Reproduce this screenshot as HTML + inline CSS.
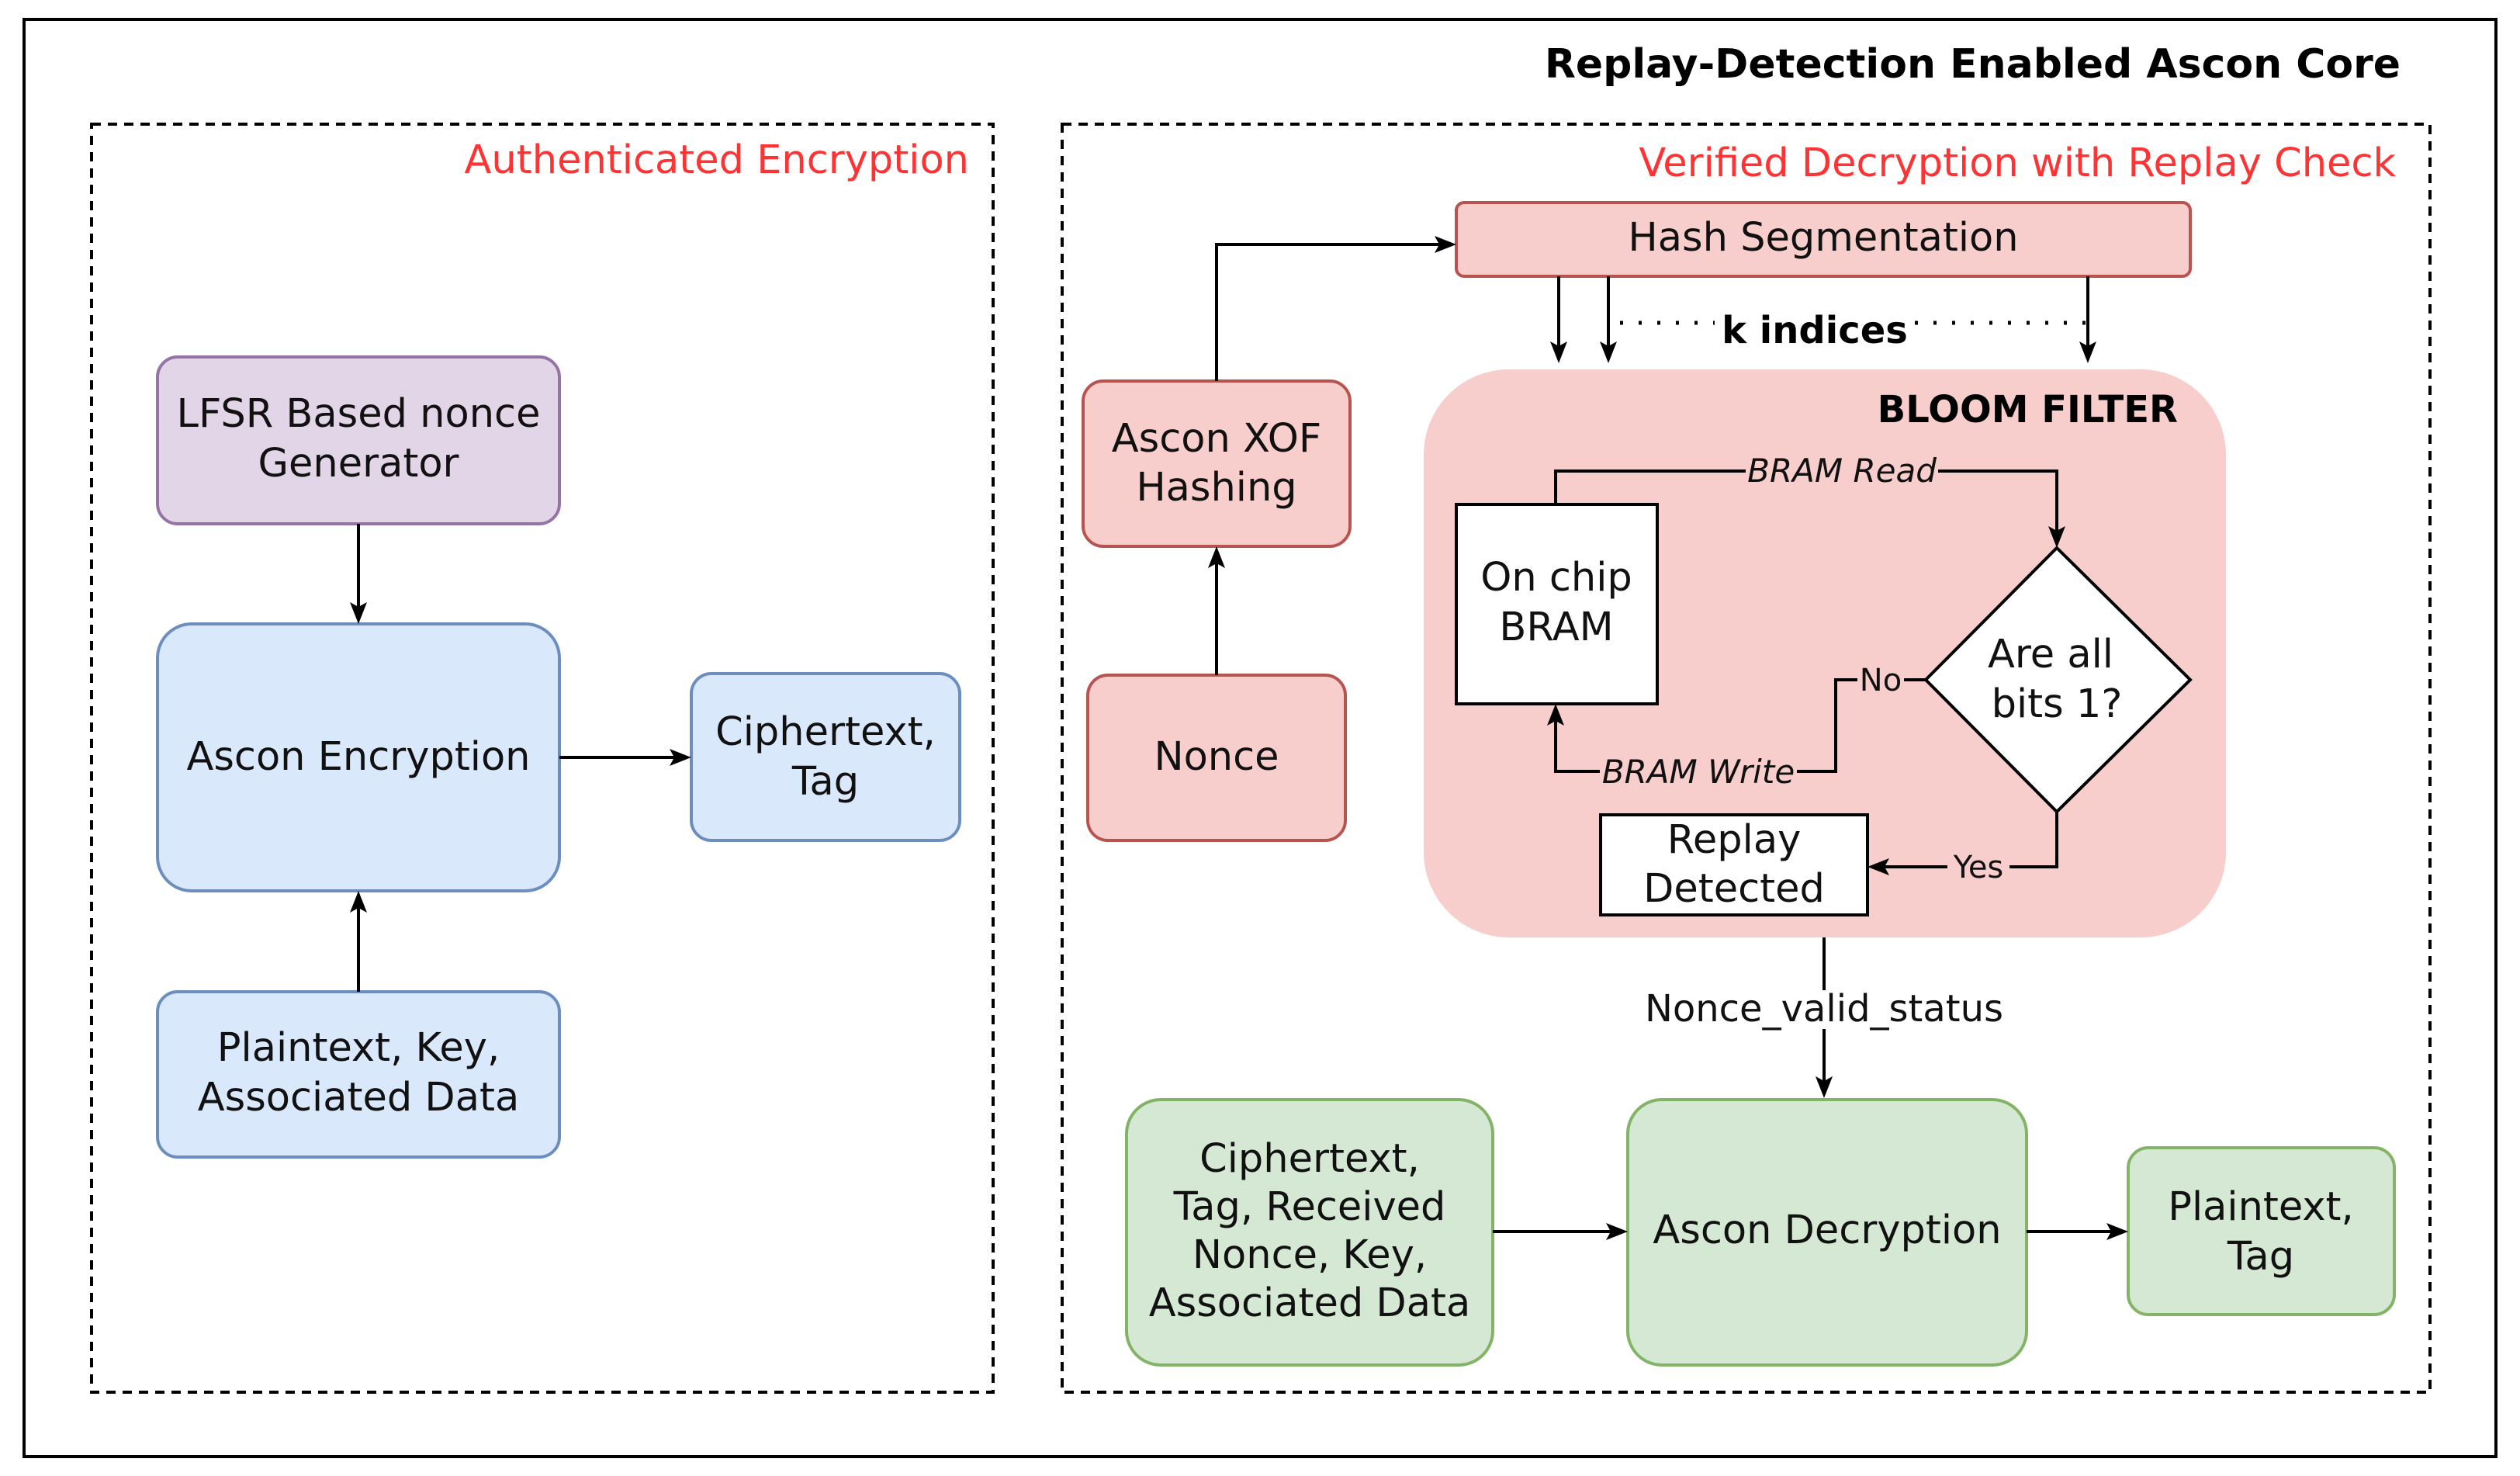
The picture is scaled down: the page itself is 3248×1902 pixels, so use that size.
<!DOCTYPE html>
<html><head><meta charset="utf-8"><style>
html,body{margin:0;padding:0;background:#fff;}
svg{display:block;}
text{font-family:"DejaVu Sans","Liberation Sans",sans-serif;}
</style></head><body>
<svg width="3248" height="1902" viewBox="0 0 3248 1902" xmlns="http://www.w3.org/2000/svg">
<rect x="31" y="25" width="3186" height="1852" fill="#fff" stroke="#000" stroke-width="4"/>
<text x="3094" y="100" text-anchor="end" font-size="52" font-weight="bold">Replay-Detection Enabled Ascon Core</text>

<rect x="118" y="160" width="1162" height="1634" fill="none" stroke="#000" stroke-width="4" stroke-dasharray="12,9"/>
<rect x="1369" y="160" width="1763" height="1634" fill="none" stroke="#000" stroke-width="4" stroke-dasharray="12,9"/>
<text x="1249" y="223" text-anchor="end" font-size="51" fill="#ff3333">Authenticated Encryption</text>
<text x="3088" y="227" text-anchor="end" font-size="51" fill="#ff3333">Verified Decryption with Replay Check</text>

<g stroke-width="4">
<rect x="203" y="460" width="518" height="215" rx="26" fill="#e1d5e7" stroke="#9673a6"/>
<rect x="203" y="804" width="518" height="344" rx="44" fill="#dae8fc" stroke="#6c8ebf"/>
<rect x="891" y="868" width="346" height="215" rx="26" fill="#dae8fc" stroke="#6c8ebf"/>
<rect x="203" y="1278" width="518" height="213" rx="26" fill="#dae8fc" stroke="#6c8ebf"/>

<rect x="1877" y="261" width="946" height="95" rx="10" fill="#f8cecc" stroke="#b85450"/>
<rect x="1396" y="491" width="344" height="213" rx="26" fill="#f8cecc" stroke="#b85450"/>
<rect x="1402" y="870" width="332" height="213" rx="26" fill="#f8cecc" stroke="#b85450"/>
<rect x="1835" y="476" width="1034" height="732" rx="110" fill="#f8cecc" stroke="none"/>

<rect x="1452" y="1417" width="472" height="342" rx="44" fill="#d5e8d4" stroke="#82b366"/>
<rect x="2098" y="1417" width="514" height="342" rx="44" fill="#d5e8d4" stroke="#82b366"/>
<rect x="2743" y="1479" width="343" height="215" rx="26" fill="#d5e8d4" stroke="#82b366"/>

<rect x="1877" y="650" width="259" height="257" fill="#fff" stroke="#000"/>
<polygon points="2651,706 2823,876 2651,1046 2482,876" fill="#fff" stroke="#000"/>
<rect x="2063" y="1050" width="344" height="129" fill="#fff" stroke="#000"/>
</g>

<g fill="none" stroke="#000" stroke-width="4">
<path d="M462 675 V790"/>
<path d="M462 1278 V1162"/>
<path d="M721 976 H876"/>
<path d="M1568 870 V718"/>
<path d="M1568 491 V315 H1862"/>
<path d="M2009 356 V453"/>
<path d="M2073 356 V453"/>
<path d="M2691 356 V453"/>
<path d="M2005 650 V607 H2651 V692"/>
<path d="M2482 876 H2366 V994 H2005 V922"/>
<path d="M2651 1046 V1117 H2422"/>
<path d="M2351 1208 V1400"/>
<path d="M1924 1587 H2083"/>
<path d="M2612 1587 H2728"/>
<path d="M2088 416 H2210 M2468 416 H2688" stroke-width="5" stroke-dasharray="4,20"/>
</g>
<g fill="#000">
<polygon points="462,804 451,776 462,782 473,776"/>
<polygon points="462,1148 451,1176 462,1170 473,1176"/>
<polygon points="891,976 863,965 869,976 863,987"/>
<polygon points="1568,704 1557,732 1568,726 1579,732"/>
<polygon points="1877,315 1849,304 1855,315 1849,326"/>
<polygon points="2009,468 1998,440 2009,446 2020,440"/>
<polygon points="2073,468 2062,440 2073,446 2084,440"/>
<polygon points="2691,468 2680,440 2691,446 2702,440"/>
<polygon points="2651,706 2640,678 2651,684 2662,678"/>
<polygon points="2005,907 1994,935 2005,929 2016,935"/>
<polygon points="2407,1117 2435,1106 2429,1117 2435,1128"/>
<polygon points="2351,1415 2340,1387 2351,1393 2362,1387"/>
<polygon points="2098,1587 2070,1576 2076,1587 2070,1598"/>
<polygon points="2743,1587 2715,1576 2721,1587 2715,1598"/>
</g>

<rect x="2110" y="1276" width="480" height="50" fill="#fff"/>
<g font-size="51" text-anchor="middle" fill="#111">
<text x="462" y="550">LFSR Based nonce</text>
<text x="462" y="614">Generator</text>
<text x="462" y="992">Ascon Encryption</text>
<text x="1064" y="960">Ciphertext,</text>
<text x="1064" y="1024">Tag</text>
<text x="462" y="1367">Plaintext, Key,</text>
<text x="462" y="1431">Associated Data</text>
<text x="2350" y="323">Hash Segmentation</text>
<text x="1568" y="582">Ascon XOF</text>
<text x="1568" y="645">Hashing</text>
<text x="1568" y="992">Nonce</text>
<text x="2006" y="761">On chip</text>
<text x="2006" y="825">BRAM</text>
<text x="2643" y="860">Are all</text>
<text x="2651" y="924">bits 1?</text>
<text x="2235" y="1099">Replay</text>
<text x="2235" y="1162">Detected</text>
<text x="1688" y="1510">Ciphertext,</text>
<text x="1688" y="1572">Tag, Received</text>
<text x="1688" y="1634">Nonce, Key,</text>
<text x="1688" y="1696">Associated Data</text>
<text x="2355" y="1602">Ascon Decryption</text>
<text x="2914" y="1572">Plaintext,</text>
<text x="2914" y="1636">Tag</text>
</g>
<text x="2339" y="442" text-anchor="middle" font-size="48" font-weight="bold">k indices</text>
<text x="2807" y="544" text-anchor="end" font-size="48" font-weight="bold">BLOOM FILTER</text>
<g font-size="42" font-style="italic" text-anchor="middle" fill="#111">
<rect x="2250" y="584" width="248" height="44" fill="#f8cecc"/>
<text x="2374" y="621">BRAM Read</text>
<rect x="2062" y="972" width="254" height="44" fill="#f8cecc"/>
<text x="2189" y="1009">BRAM Write</text>
</g>
<g font-size="40" text-anchor="middle" fill="#111">
<rect x="2394" y="856" width="60" height="40" fill="#f8cecc"/>
<text x="2424" y="890">No</text>
<rect x="2510" y="1096" width="80" height="42" fill="#f8cecc"/>
<text x="2550" y="1131">Yes</text>
</g>
<text x="2351" y="1316" text-anchor="middle" font-size="48" fill="#111">Nonce_valid_status</text>
</svg>
</body></html>
